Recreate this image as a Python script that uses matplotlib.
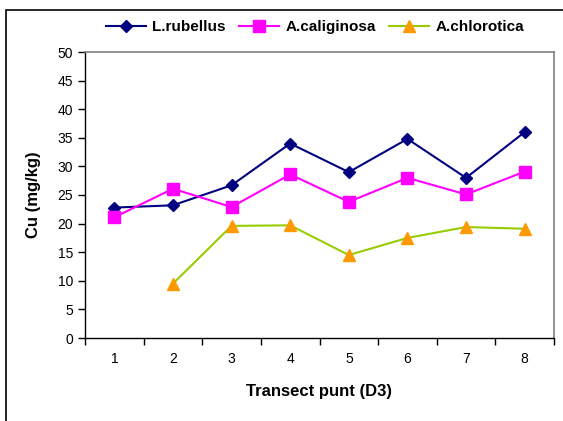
import numpy as np
import matplotlib
matplotlib.use("Agg")
from matplotlib import pyplot as plt
from matplotlib.patches import Rectangle

plt.rcParams['font.family'] = ['Liberation Sans', 'DejaVu Sans']

# data
punten = [1, 2, 3, 4, 5, 6, 7, 8]
rubellus = [22.8, 23.2, 26.7, 34.0, 29.0, 34.8, 28.0, 36.0]
caliginosa = [21.1, 26.1, 22.9, 28.6, 23.8, 28.0, 25.1, 29.1]
chlorotica = [np.nan, 9.5, 19.6, 19.7, 14.5, 17.5, 19.4, 19.1]

fig = plt.figure(figsize=(5.63, 4.21), dpi=100)
ax = fig.add_axes([85/563, 1 - 338/421, (554 - 85)/563, (338 - 52)/421])

x = np.array(punten)
ax.plot(x, rubellus, color='#000080', marker='D', markersize=6, lw=1.5,
        label='L.rubellus')
ax.plot(x, caliginosa, color='#FF00FF', marker='s', markersize=8, lw=1.5,
        label='A.caliginosa')
ax.plot(x, chlorotica, color='#99CC00', marker='^', markersize=9, lw=1.5,
        markerfacecolor='#FF9900', markeredgecolor='#FF9900',
        label='A.chlorotica')

ax.set_xlim(0.5, 8.5)
ax.set_ylim(0, 50)
ax.set_yticks(range(0, 51, 5))
ax.set_xticks(x)
ax.set_xticklabels([str(p) for p in punten])
ax.set_xticks(np.arange(0.5, 8.6, 1), minor=True)
ax.tick_params(axis='x', which='major', length=0, labelsize=10, pad=10)
ax.tick_params(axis='x', which='minor', length=5, width=1, direction='out')
ax.tick_params(axis='y', length=5, width=1, direction='out', labelsize=10)

for s in ['top', 'right']:
    ax.spines[s].set_color('#808080')
    ax.spines[s].set_linewidth(1.2)
for s in ['left', 'bottom']:
    ax.spines[s].set_color('black')
    ax.spines[s].set_linewidth(1)

ax.set_ylabel('Cu (mg/kg)', fontsize=12, fontweight='bold', labelpad=12)
ax.set_xlabel('Transect punt (D3)', fontsize=12, fontweight='bold', labelpad=13)

fig.legend(loc='center', bbox_to_anchor=(315/563, 1 - 27/421), ncol=3,
           frameon=False, prop={'weight': 'bold', 'size': 11},
           handlelength=2.6, columnspacing=0.9, handletextpad=0.4)

# outer chart frame
fig.patches.append(Rectangle((6/563, -0.1), 2, 1 - 10/421 + 0.1,
                             transform=fig.transFigure, fill=False,
                             edgecolor='black', lw=1.2, clip_on=False))

fig.savefig('out.png', dpi=100)
